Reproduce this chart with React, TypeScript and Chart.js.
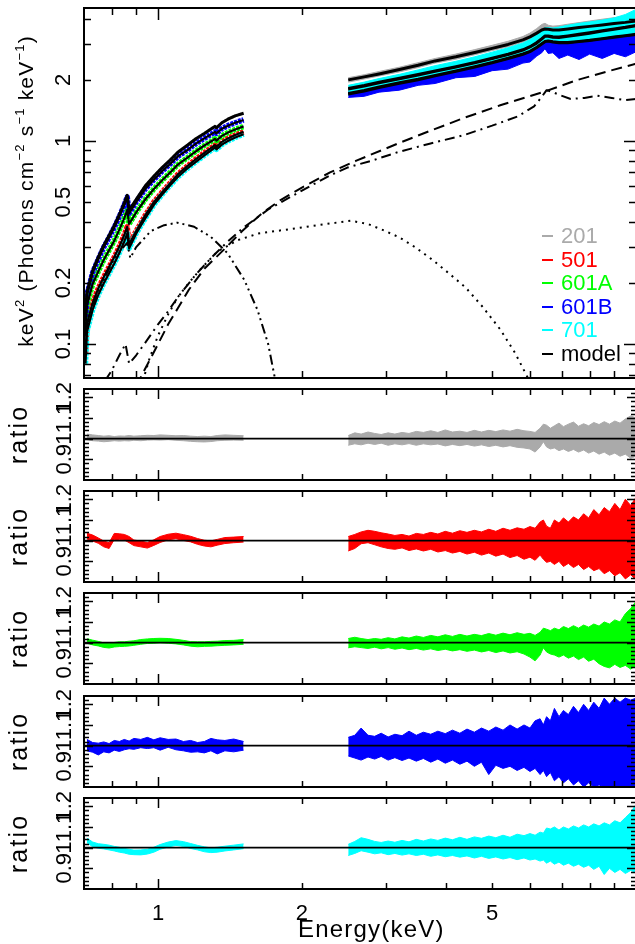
import React, { useEffect, useRef } from "react";
import { Chart, registerables } from "chart.js";

Chart.register(...registerables);

// ---------------- axes ----------------
const X_MIN = 0.7;
const X_MAX = 10;
const MAIN_Y_MIN = 0.068;
const MAIN_Y_MAX = 4.52;
const RATIO_MIN = 0.8;
const RATIO_MAX = 1.24;

const X_MAJOR = [1, 10];
const X_MINOR = [0.8, 0.9, 2, 3, 4, 5, 6, 7, 8, 9];
const X_LABELS = [1, 2, 5];
const MAIN_Y_MAJOR = [0.1, 1];
const MAIN_Y_MINOR = [0.07, 0.08, 0.09, 0.2, 0.3, 0.4, 0.5, 0.6, 0.7, 0.8, 0.9, 2, 3, 4];
const MAIN_Y_LABELS = [0.1, 0.2, 0.5, 1, 2];
const RATIO_MAJOR = [0.9, 1.0, 1.1, 1.2];
const RATIO_MINOR = [0.82, 0.84, 0.86, 0.88, 0.92, 0.94, 0.96, 0.98, 1.02, 1.04, 1.06, 1.08, 1.12, 1.14, 1.16, 1.18, 1.22];
const RATIO_LABELS = [0.9, 1.0, 1.1, 1.2];

const SERIES = ["201", "501", "601A", "601B", "701"];
const COLORS = ["#aaaaaa", "#ff0000", "#00ff00", "#0000ff", "#00ffff"];

// ---------------- main panel: low-energy segment (model curves) ----------------
const LOW_E = [0.705, 0.71, 0.73, 0.75, 0.77, 0.79, 0.81, 0.83, 0.85, 0.862, 0.87, 0.9, 0.94, 0.98, 1.02, 1.06, 1.1, 1.15, 1.2, 1.25, 1.3, 1.315, 1.325, 1.36, 1.4, 1.45, 1.51];
const M201_LOW = [0.14, 0.18, 0.23, 0.268, 0.306, 0.342, 0.383, 0.434, 0.495, 0.54, 0.455, 0.515, 0.6, 0.67, 0.74, 0.805, 0.88, 0.95, 1.025, 1.09, 1.16, 1.18, 1.16, 1.23, 1.28, 1.33, 1.37];
const M501_LOW = [0.09, 0.125, 0.16, 0.188, 0.214, 0.24, 0.268, 0.302, 0.345, 0.378, 0.31, 0.36, 0.43, 0.5, 0.56, 0.62, 0.685, 0.75, 0.815, 0.875, 0.935, 0.955, 0.935, 0.99, 1.03, 1.07, 1.11];
const M601A_LOW = [0.11, 0.155, 0.198, 0.228, 0.26, 0.29, 0.323, 0.366, 0.417, 0.456, 0.39, 0.445, 0.515, 0.58, 0.64, 0.7, 0.765, 0.825, 0.89, 0.95, 1.005, 1.025, 1.005, 1.06, 1.1, 1.14, 1.18];
const M601B_LOW = [0.13, 0.175, 0.225, 0.262, 0.3, 0.335, 0.375, 0.425, 0.485, 0.53, 0.44, 0.5, 0.58, 0.645, 0.71, 0.77, 0.84, 0.9, 0.97, 1.03, 1.09, 1.11, 1.09, 1.15, 1.19, 1.23, 1.27];
const M701_LOW = [0.08, 0.115, 0.148, 0.175, 0.199, 0.223, 0.249, 0.281, 0.32, 0.35, 0.296, 0.35, 0.415, 0.485, 0.545, 0.605, 0.665, 0.73, 0.79, 0.85, 0.91, 0.93, 0.91, 0.96, 1.0, 1.04, 1.08];

// ---------------- main panel: high-energy segment ----------------
const HIGH_E = [2.5, 2.7, 2.9, 3.2, 3.5, 3.8, 4.2, 4.6, 5.0, 5.4, 5.8, 6.0, 6.2, 6.35, 6.45, 6.55, 6.7, 6.9, 7.2, 7.6, 8.0, 8.5, 9.0, 9.5, 10.0];
const M201_HIGH = [2.0, 2.07, 2.14, 2.25, 2.36, 2.48, 2.6, 2.73, 2.86, 2.99, 3.15, 3.26, 3.4, 3.52, 3.56, 3.55, 3.52, 3.52, 3.56, 3.62, 3.67, 3.73, 3.79, 3.84, 3.9];
const M501_HIGH = [1.8, 1.86, 1.93, 2.02, 2.11, 2.2, 2.31, 2.42, 2.54, 2.66, 2.8, 2.9, 3.03, 3.17, 3.27, 3.27, 3.24, 3.23, 3.27, 3.33, 3.39, 3.47, 3.54, 3.61, 3.69];
const M601A_HIGH = [1.72, 1.78, 1.85, 1.94, 2.02, 2.11, 2.22, 2.33, 2.44, 2.56, 2.69, 2.77, 2.9, 3.02, 3.1, 3.12, 3.09, 3.06, 3.06, 3.1, 3.14, 3.2, 3.26, 3.31, 3.36];
const M601B_HIGH = [1.7, 1.76, 1.83, 1.92, 2.0, 2.09, 2.2, 2.31, 2.42, 2.54, 2.67, 2.75, 2.88, 3.0, 3.08, 3.1, 3.07, 3.04, 3.04, 3.08, 3.12, 3.18, 3.24, 3.29, 3.34];
const M701_HIGH = [1.82, 1.88, 1.95, 2.04, 2.13, 2.22, 2.33, 2.44, 2.56, 2.68, 2.82, 2.92, 3.06, 3.2, 3.3, 3.3, 3.27, 3.26, 3.3, 3.36, 3.42, 3.5, 3.57, 3.64, 3.72];

const D201_HI_UP = [2.05, 2.12, 2.2, 2.31, 2.43, 2.55, 2.68, 2.82, 2.96, 3.1, 3.27, 3.4, 3.58, 3.75, 3.8, 3.72, 3.68, 3.7, 3.76, 3.83, 3.9, 3.98, 4.05, 4.12, 4.2];
const D201_HI_LO = [1.95, 2.02, 2.09, 2.19, 2.3, 2.42, 2.53, 2.66, 2.79, 2.91, 3.07, 3.17, 3.3, 3.42, 3.46, 3.45, 3.42, 3.42, 3.46, 3.52, 3.57, 3.62, 3.68, 3.73, 3.78];
const D501_HI_UP = [1.84, 1.9, 1.97, 2.07, 2.16, 2.25, 2.37, 2.49, 2.61, 2.74, 2.89, 3.0, 3.14, 3.29, 3.4, 3.4, 3.38, 3.38, 3.43, 3.5, 3.57, 3.66, 3.74, 3.82, 3.9];
const D501_HI_LO = [1.76, 1.82, 1.89, 1.97, 2.06, 2.15, 2.25, 2.35, 2.47, 2.58, 2.71, 2.8, 2.92, 3.05, 3.14, 3.14, 3.1, 3.08, 3.11, 3.16, 3.21, 3.28, 3.34, 3.4, 3.48];
const D601A_HI_UP = [1.76, 1.82, 1.89, 1.99, 2.07, 2.16, 2.28, 2.4, 2.51, 2.64, 2.78, 2.87, 3.01, 3.14, 3.23, 3.25, 3.23, 3.21, 3.22, 3.27, 3.32, 3.39, 3.46, 3.52, 3.58];
const D601A_HI_LO = [1.68, 1.74, 1.81, 1.89, 1.97, 2.06, 2.16, 2.26, 2.37, 2.48, 2.6, 2.67, 2.79, 2.9, 2.97, 2.99, 2.95, 2.91, 2.9, 2.93, 2.96, 3.01, 3.06, 3.1, 3.14];
const D601B_HI_UP = [1.75, 1.82, 1.89, 1.99, 2.08, 2.18, 2.3, 2.42, 2.55, 2.68, 2.83, 2.93, 3.08, 3.22, 3.32, 3.35, 3.35, 3.35, 3.38, 3.45, 3.52, 3.6, 3.7, 3.8, 3.9];
const D601B_HI_LO = [1.64, 1.66, 1.74, 1.78, 1.88, 1.92, 2.05, 2.08, 2.22, 2.26, 2.42, 2.45, 2.62, 2.72, 2.85, 2.7, 2.72, 2.55, 2.65, 2.52, 2.68, 2.55, 2.7, 2.6, 2.75];
const D701_HI_UP = [1.88, 1.95, 2.03, 2.13, 2.24, 2.35, 2.47, 2.6, 2.74, 2.88, 3.04, 3.16, 3.33, 3.52, 3.62, 3.62, 3.6, 3.64, 3.72, 3.8, 3.86, 3.94, 4.04, 4.2, 4.45];
const D701_HI_LO = [1.74, 1.8, 1.86, 1.95, 2.03, 2.12, 2.22, 2.33, 2.44, 2.56, 2.69, 2.78, 2.92, 3.05, 3.14, 3.12, 3.08, 3.04, 3.05, 3.08, 3.12, 3.18, 3.24, 3.3, 3.36];

// ---------------- model components ----------------
const PL_E = [0.9, 0.93, 0.96, 1.0, 1.05, 1.1, 1.16, 1.25, 1.37, 1.5, 1.65, 1.8, 2.0, 2.29, 2.6, 3.17, 3.7, 4.37, 5.2, 6.43, 7.55, 8.7, 10];
const PL_V = [0.062, 0.072, 0.083, 0.1, 0.125, 0.15, 0.185, 0.235, 0.29, 0.36, 0.44, 0.51, 0.59, 0.7, 0.8, 0.97, 1.12, 1.3, 1.5, 1.75, 2.0, 2.2, 2.4];
const REFL_E = [0.775, 0.8, 0.83, 0.855, 0.87, 0.9, 0.95, 1.0, 1.05, 1.1, 1.2, 1.3, 1.4, 1.5, 1.7, 2.0, 2.3, 2.49, 2.8, 3.17, 3.7, 4.37, 5.0, 5.65, 6.12, 6.35, 6.5, 6.7, 6.95, 7.3, 7.8, 8.3, 8.9, 9.45, 10];
const REFL_V = [0.066, 0.074, 0.088, 0.1, 0.08, 0.088, 0.105, 0.125, 0.145, 0.17, 0.22, 0.27, 0.32, 0.37, 0.46, 0.57, 0.68, 0.74, 0.8, 0.88, 0.97, 1.07, 1.19, 1.32, 1.48, 1.65, 1.78, 1.74, 1.68, 1.61, 1.63, 1.67, 1.63, 1.59, 1.61];
const DOT_E = [0.93, 0.96, 1.0, 1.05, 1.1, 1.16, 1.23, 1.33, 1.47, 1.62, 1.84, 2.16, 2.53, 2.75, 2.95, 3.2, 3.45, 3.75, 4.06, 4.4, 4.77, 5.2, 5.59, 5.98];
const DOT_V = [0.066, 0.085, 0.11, 0.14, 0.17, 0.2, 0.235, 0.285, 0.325, 0.35, 0.365, 0.385, 0.405, 0.39, 0.365, 0.335, 0.3, 0.26, 0.223, 0.19, 0.153, 0.118, 0.09, 0.066];
const HUMP_E = [0.705, 0.72, 0.756, 0.807, 0.846, 0.862, 0.875, 0.9, 0.966, 1.03, 1.098, 1.19, 1.29, 1.398, 1.515, 1.615, 1.7, 1.76];
const HUMP_V = [0.11, 0.142, 0.19, 0.26, 0.3, 0.315, 0.265, 0.3, 0.36, 0.385, 0.396, 0.378, 0.337, 0.28, 0.207, 0.147, 0.1, 0.066];

// ---------------- ratio panels ----------------
const RATIO_LOW_E = [0.71, 0.73, 0.75, 0.77, 0.79, 0.81, 0.83, 0.85, 0.87, 0.89, 0.92, 0.95, 0.98, 1.01, 1.05, 1.09, 1.13, 1.17, 1.21, 1.25, 1.29, 1.33, 1.38, 1.44, 1.51];
const RATIO_HIGH_E = [2.5, 2.58, 2.66, 2.75, 2.84, 2.93, 3.03, 3.13, 3.24, 3.35, 3.47, 3.59, 3.72, 3.85, 3.99, 4.13, 4.28, 4.43, 4.59, 4.75, 4.92, 5.09, 5.27, 5.45, 5.64, 5.83, 6.0, 6.15, 6.3, 6.4, 6.5, 6.62, 6.75, 6.9, 7.05, 7.22, 7.4, 7.58, 7.77, 7.96, 8.16, 8.37, 8.58, 8.8, 9.03, 9.26, 9.5, 9.75, 10.0];

const R201_LOW_UP = [1.022, 1.018, 1.015, 1.012, 1.014, 1.01, 1.013, 1.012, 1.015, 1.012, 1.014, 1.016, 1.015, 1.018, 1.016, 1.014, 1.015, 1.012, 1.01, 1.012, 1.01, 1.015, 1.018, 1.016, 1.014];
const R201_LOW_LO = [0.995, 0.99, 0.988, 0.985, 0.987, 0.99, 0.988, 0.99, 0.989, 0.992, 0.99, 0.993, 0.994, 0.993, 0.995, 0.992, 0.99, 0.987, 0.985, 0.984, 0.986, 0.99, 0.992, 0.993, 0.992];
const R201_HIGH_UP = [1.015, 1.028, 1.022, 1.032, 1.025, 1.02, 1.028, 1.022, 1.03, 1.025, 1.035, 1.03, 1.038, 1.03, 1.042, 1.032, 1.036, 1.03, 1.04, 1.032, 1.04, 1.034, 1.042, 1.036, 1.045, 1.038, 1.035, 1.03, 1.05, 1.07, 1.065, 1.05, 1.062, 1.075, 1.058, 1.07, 1.08, 1.06, 1.072, 1.062, 1.078, 1.068, 1.082, 1.07, 1.085, 1.075, 1.095, 1.11, 1.1];
const R201_HIGH_LO = [0.968, 0.975, 0.97, 0.978, 0.972, 0.978, 0.968, 0.975, 0.97, 0.976, 0.968, 0.975, 0.97, 0.974, 0.965, 0.972, 0.966, 0.972, 0.964, 0.97, 0.962, 0.968, 0.96, 0.966, 0.958, 0.955, 0.95, 0.935, 0.96, 0.985, 0.96, 0.95, 0.955, 0.942, 0.95, 0.938, 0.948, 0.935, 0.945, 0.93, 0.94, 0.925, 0.935, 0.92, 0.93, 0.915, 0.925, 0.905, 0.915];

const R501_LOW_UP = [1.036, 1.027, 1.013, 0.998, 0.99, 1.035, 1.033, 1.03, 1.02, 1.003, 0.998, 0.991, 1.004, 1.02, 1.031, 1.036, 1.029, 1.021, 1.01, 1.002, 0.999, 1.006, 1.015, 1.017, 1.02];
const R501_LOW_LO = [1.008, 0.998, 0.987, 0.97, 0.962, 1.006, 1.005, 1.003, 0.99, 0.976, 0.97, 0.964, 0.977, 0.991, 1.004, 1.009, 1.001, 0.994, 0.982, 0.974, 0.97, 0.978, 0.986, 0.99, 0.993];
const R501_HIGH_UP = [1.02, 1.03, 1.042, 1.05, 1.045, 1.038, 1.032, 1.025, 1.03, 1.022, 1.035, 1.03, 1.04, 1.032, 1.045, 1.036, 1.048, 1.04, 1.05, 1.042, 1.055, 1.045, 1.06, 1.05, 1.062, 1.055, 1.068, 1.06, 1.09, 1.1, 1.07, 1.06, 1.1, 1.085, 1.11, 1.09, 1.115, 1.1, 1.13, 1.11, 1.15, 1.125, 1.16, 1.14, 1.18, 1.15, 1.2, 1.17, 1.21];
const R501_HIGH_LO = [0.95, 0.962, 0.985, 0.99, 0.98, 0.97, 0.962, 0.958, 0.965, 0.952, 0.96, 0.95, 0.958, 0.945, 0.952, 0.94, 0.948, 0.935, 0.944, 0.93, 0.94, 0.925, 0.935, 0.918, 0.928, 0.91, 0.92, 0.905, 0.93, 0.91, 0.895, 0.9, 0.885, 0.9, 0.875, 0.89, 0.87, 0.885, 0.86, 0.875, 0.855, 0.865, 0.84, 0.855, 0.83, 0.845, 0.815, 0.835, 0.81];

const R601A_LOW_UP = [1.019, 1.012, 1.006, 0.999, 0.997, 1.001, 1.004, 1.004, 1.007, 1.009, 1.015, 1.018, 1.02, 1.021, 1.02, 1.016, 1.011, 1.005, 1.004, 1.004, 1.006, 1.007, 1.01, 1.011, 1.015];
const R601A_LOW_LO = [0.997, 0.989, 0.984, 0.977, 0.974, 0.979, 0.981, 0.982, 0.984, 0.987, 0.992, 0.996, 0.997, 0.999, 0.997, 0.994, 0.989, 0.983, 0.98, 0.982, 0.983, 0.985, 0.987, 0.989, 0.992];
const R601A_HIGH_UP = [1.02, 1.026, 1.02, 1.015, 1.02, 1.016, 1.024, 1.018, 1.028, 1.022, 1.032, 1.025, 1.035, 1.028, 1.038, 1.03, 1.04, 1.032, 1.04, 1.034, 1.044, 1.036, 1.046, 1.038, 1.048, 1.04, 1.045, 1.035, 1.05, 1.07, 1.065, 1.058, 1.07, 1.062, 1.078, 1.068, 1.082, 1.07, 1.085, 1.075, 1.09, 1.08, 1.1, 1.09, 1.11, 1.1, 1.14, 1.165, 1.2];
const R601A_HIGH_LO = [0.975, 0.98, 0.976, 0.972, 0.978, 0.97, 0.976, 0.968, 0.974, 0.966, 0.972, 0.964, 0.97, 0.962, 0.968, 0.96, 0.966, 0.958, 0.964, 0.955, 0.962, 0.952, 0.96, 0.95, 0.956, 0.945, 0.93, 0.912, 0.94, 0.975, 0.955, 0.945, 0.94, 0.93, 0.94, 0.925, 0.935, 0.918, 0.93, 0.91, 0.92, 0.898, 0.885, 0.878, 0.895, 0.88, 0.89, 0.872, 0.89];

const R601B_LOW_UP = [1.03, 1.015, 1.012, 1.018, 1.01, 1.025, 1.02, 1.03, 1.022, 1.035, 1.03, 1.04, 1.028, 1.038, 1.03, 1.032, 1.02, 1.025, 1.015, 1.02, 1.035, 1.028, 1.025, 1.032, 1.02];
const R601B_LOW_LO = [0.975, 0.968, 0.955, 0.97, 0.965, 0.978, 0.972, 0.98, 0.985, 0.982, 0.99, 0.986, 0.99, 0.978, 0.992, 0.98, 0.975, 0.968, 0.97, 0.965, 0.975, 0.96, 0.975, 0.97, 0.978];
const R601B_HIGH_UP = [1.04, 1.05, 1.085, 1.05, 1.045, 1.06, 1.042, 1.055, 1.048, 1.07, 1.05, 1.065, 1.055, 1.07, 1.058, 1.075, 1.06, 1.08, 1.065, 1.085, 1.07, 1.09, 1.075, 1.1, 1.08, 1.1, 1.085, 1.12, 1.13, 1.1, 1.14, 1.12, 1.18, 1.14, 1.17, 1.15, 1.19, 1.16, 1.2, 1.17, 1.21, 1.18, 1.23, 1.2, 1.23, 1.21, 1.23, 1.22, 1.23];
const R601B_HIGH_LO = [0.95, 0.94, 0.93, 0.945, 0.935, 0.948, 0.93, 0.942, 0.928, 0.94, 0.925, 0.938, 0.92, 0.935, 0.915, 0.93, 0.91, 0.925, 0.9, 0.92, 0.86, 0.905, 0.89, 0.9, 0.88, 0.895, 0.875, 0.89, 0.86, 0.88, 0.85, 0.87, 0.83, 0.85, 0.82, 0.84, 0.81, 0.83, 0.8, 0.82, 0.8, 0.81, 0.8, 0.8, 0.8, 0.8, 0.8, 0.8, 0.8];

const R701_LOW_UP = [1.046, 1.027, 1.019, 1.016, 1.012, 1.006, 1.002, 0.996, 0.992, 0.988, 0.989, 0.992, 1.002, 1.015, 1.027, 1.034, 1.029, 1.02, 1.011, 1.004, 0.999, 1.002, 1.007, 1.012, 1.018];
const R701_LOW_LO = [1.024, 1.004, 0.997, 0.994, 0.989, 0.984, 0.978, 0.974, 0.968, 0.966, 0.965, 0.969, 0.978, 0.992, 1.003, 1.011, 1.006, 0.996, 0.989, 0.98, 0.976, 0.978, 0.984, 0.989, 0.995];
const R701_HIGH_UP = [1.016, 1.03, 1.048, 1.04, 1.03, 1.025, 1.032, 1.026, 1.035, 1.028, 1.04, 1.032, 1.042, 1.035, 1.046, 1.038, 1.05, 1.04, 1.052, 1.045, 1.056, 1.048, 1.06, 1.05, 1.065, 1.058, 1.068, 1.06, 1.075, 1.07, 1.095, 1.09, 1.1, 1.085, 1.1, 1.09, 1.105, 1.095, 1.11, 1.1, 1.115, 1.105, 1.12, 1.11, 1.13, 1.12, 1.145, 1.17, 1.21];
const R701_HIGH_LO = [0.962, 0.972, 0.985, 0.978, 0.97, 0.975, 0.966, 0.972, 0.964, 0.97, 0.962, 0.968, 0.958, 0.965, 0.956, 0.962, 0.954, 0.96, 0.95, 0.958, 0.948, 0.955, 0.945, 0.952, 0.942, 0.95, 0.94, 0.945, 0.935, 0.94, 0.925, 0.935, 0.92, 0.93, 0.915, 0.925, 0.91, 0.92, 0.905, 0.915, 0.895, 0.91, 0.87, 0.9, 0.88, 0.895, 0.875, 0.89, 0.88];

// ---------------- layout ----------------
const CANVAS_W = 645;
const CANVAS_H = 944;
const PLOT_L = 84;
const PLOT_R = 636;
const MAIN_BOX = { top: 8, bottom: 378 };
const RATIO_BOXES = [
  { top: 389, bottom: 480 },
  { top: 491, bottom: 582 },
  { top: 593, bottom: 684 },
  { top: 696, bottom: 787 },
  { top: 798, bottom: 889 },
];
const FONT = '"Liberation Sans", Arial, Helvetica, sans-serif';

type Pt = { x: number; y: number };
const pts = (xs: number[], ys: number[]): Pt[] => xs.map((x, i) => ({ x, y: ys[i] }));

function lineDs(data: Pt[], color: string, width: number, order: number, dash: number[] = []) {
  return {
    data,
    borderColor: color,
    backgroundColor: color,
    borderWidth: width,
    borderDash: dash,
    pointRadius: 0,
    fill: false,
    order,
    tension: 0,
    borderCapStyle: "butt",
    borderJoinStyle: "round",
  };
}

function bandDs(xs: number[], lo: number[], up: number[], color: string, order: number) {
  return [
    { data: pts(xs, lo), borderColor: color, backgroundColor: color, borderWidth: 1, pointRadius: 0, fill: false, order, tension: 0 },
    { data: pts(xs, up), borderColor: color, backgroundColor: color, borderWidth: 1, pointRadius: 0, fill: "-1", order, tension: 0 },
  ];
}

function fmt(v: number) {
  return String(v);
}

function drawRotated(ctx: CanvasRenderingContext2D, text: string, x: number, y: number, spacing = 0) {
  ctx.save();
  ctx.translate(x, y);
  ctx.rotate(-Math.PI / 2);
  (ctx as any).letterSpacing = spacing + "px";
  const w = ctx.measureText(text).width;
  ctx.textAlign = "left";
  ctx.textBaseline = "middle";
  ctx.fillText(text, -(w - spacing) / 2, 0);
  ctx.restore();
}

type Seg = { t: string; sup?: boolean };
function drawRichRotated(ctx: CanvasRenderingContext2D, segs: Seg[], x: number, y: number, size: number, spacing: number) {
  ctx.save();
  ctx.translate(x, y);
  ctx.rotate(-Math.PI / 2);
  (ctx as any).letterSpacing = spacing + "px";
  ctx.textBaseline = "alphabetic";
  ctx.textAlign = "left";
  let total = 0;
  const widths: number[] = [];
  for (const s of segs) {
    ctx.font = `${s.sup ? Math.round(size * 0.62) : size}px ${FONT}`;
    const w = ctx.measureText(s.t).width;
    widths.push(w);
    total += w;
  }
  let cx = -total / 2;
  const base = size * 0.36;
  segs.forEach((s, i) => {
    ctx.font = `${s.sup ? Math.round(size * 0.62) : size}px ${FONT}`;
    ctx.fillText(s.t, cx, s.sup ? base - size * 0.42 : base);
    cx += widths[i];
  });
  ctx.restore();
}

const sciAxes = {
  id: "sciAxes",
  afterDraw(chart: any, _a: any, o: any) {
    const ctx: CanvasRenderingContext2D = chart.ctx;
    const { left, right, top, bottom } = chart.chartArea;
    const xs = chart.scales.x;
    const ys = chart.scales.y;
    ctx.save();
    ctx.strokeStyle = "#000";
    ctx.fillStyle = "#000";
    ctx.lineWidth = 1.5;
    ctx.beginPath();
    const xt = (vals: number[], len: number) => {
      for (const v of vals) {
        const px = Math.round(xs.getPixelForValue(v)) + 0.5;
        ctx.moveTo(px, top);
        ctx.lineTo(px, top + len);
        ctx.moveTo(px, bottom);
        ctx.lineTo(px, bottom - len);
      }
    };
    const yt = (vals: number[], len: number) => {
      for (const v of vals) {
        const py = Math.round(ys.getPixelForValue(v)) + 0.5;
        ctx.moveTo(left, py);
        ctx.lineTo(left + len, py);
        ctx.moveTo(right, py);
        ctx.lineTo(right - len, py);
      }
    };
    xt(X_MAJOR, o.xMajorLen);
    xt(X_MINOR, o.xMinorLen);
    yt(o.yMajor, o.yMajorLen);
    yt(o.yMinor, o.yMinorLen);
    ctx.stroke();
    ctx.lineWidth = 2;
    ctx.strokeRect(left, top, right - left, bottom - top);

    // y tick labels (rotated)
    ctx.font = `${o.yLabelSize}px ${FONT}`;
    for (const v of o.yLabels) {
      drawRotated(ctx, fmt(v), o.yLabelX, ys.getPixelForValue(v), 0);
    }
    // y title
    if (o.yTitle === "ratio") {
      ctx.font = `${o.titleSize}px ${FONT}`;
      drawRotated(ctx, "ratio", 20, (top + bottom) / 2 + 1, o.ratioSpacing);
    } else if (o.yTitle === "main") {
      drawRichRotated(
        ctx,
        [
          { t: "keV" },
          { t: "2", sup: true },
          { t: " (Photons cm" },
          { t: "\u22122", sup: true },
          { t: " s" },
          { t: "\u22121", sup: true },
          { t: " keV" },
          { t: "\u22121", sup: true },
          { t: ")" },
        ],
        25,
        191,
        o.titleSize,
        1.2
      );
    }
    // x tick labels + title
    if (o.xLabels) {
      ctx.font = `${o.yLabelSize}px ${FONT}`;
      ctx.textAlign = "center";
      ctx.textBaseline = "alphabetic";
      for (const v of X_LABELS) {
        ctx.fillText(fmt(v), xs.getPixelForValue(v), 920);
      }
      ctx.font = `${o.xTitleSize}px ${FONT}`;
      ctx.textAlign = "left";
      (ctx as any).letterSpacing = o.xTitleSpacing + "px";
      ctx.fillText("Energy(keV)", 298, 937);
      (ctx as any).letterSpacing = "0px";
    }
    // legend
    if (o.legend) {
      ctx.font = `${o.legendSize}px ${FONT}`;
      ctx.textAlign = "left";
      ctx.textBaseline = "middle";
      const names = [...SERIES, "model"];
      const cols = [...COLORS, "#000000"];
      names.forEach((n, i) => {
        const yy = 236 + i * 23.5;
        ctx.fillStyle = cols[i];
        ctx.fillRect(542, Math.round(yy) - 1, 11, 2);
        ctx.fillText(n, 561, yy + 1);
      });
    }
    ctx.restore();
  },
};

function baseOptions(box: { top: number; bottom: number }, yScale: any, axesOpts: any) {
  return {
    responsive: false,
    maintainAspectRatio: false,
    animation: false,
    devicePixelRatio: 1,
    events: [],
    layout: { padding: { left: PLOT_L, right: CANVAS_W - PLOT_R, top: box.top, bottom: CANVAS_H - box.bottom } },
    plugins: { legend: { display: false }, tooltip: { enabled: false }, title: { display: false }, sciAxes: axesOpts },
    scales: {
      x: { type: "logarithmic", min: X_MIN, max: X_MAX, display: false },
      y: { ...yScale, display: false },
    },
  };
}

function mainConfig(): any {
  const ds: any[] = [];
  const lowModels = [M201_LOW, M501_LOW, M601A_LOW, M601B_LOW, M701_LOW];
  const highModels = [M201_HIGH, M501_HIGH, M601A_HIGH, M601B_HIGH, M701_HIGH];
  lowModels.forEach((m, i) => ds.push(lineDs(pts(LOW_E, m), "#000", i === 0 ? 3 : 2.2, 0)));
  highModels.forEach((m, i) => ds.push(lineDs(pts(HIGH_E, m), "#000", i === 0 ? 3 : 2.6, 0)));
  ds.push(lineDs(pts(PL_E, PL_V), "#000", 2, 1, [11, 6]));
  ds.push(lineDs(pts(REFL_E, REFL_V), "#000", 2, 1, [10, 5, 2, 5]));
  ds.push(lineDs(pts(DOT_E, DOT_V), "#000", 2, 1, [2, 5]));
  ds.push(lineDs(pts(HUMP_E, HUMP_V), "#000", 2, 1, [10, 4, 2, 4, 2, 4, 2, 4]));
  const orderOf = [6, 5, 4, 3, 2];
  lowModels.forEach((m, i) => ds.push(lineDs(pts(LOW_E, m), COLORS[i], i === 0 ? 3 : 5.5, orderOf[i], [3, 1])));
  const bands = [
    [D201_HI_LO, D201_HI_UP],
    [D501_HI_LO, D501_HI_UP],
    [D601A_HI_LO, D601A_HI_UP],
    [D601B_HI_LO, D601B_HI_UP],
    [D701_HI_LO, D701_HI_UP],
  ];
  bands.forEach((b, i) => ds.push(...bandDs(HIGH_E, b[0], b[1], COLORS[i], orderOf[i])));
  return {
    type: "line",
    data: { datasets: ds },
    options: baseOptions(
      MAIN_BOX,
      { type: "logarithmic", min: MAIN_Y_MIN, max: MAIN_Y_MAX },
      {
        xMajorLen: 12,
        xMinorLen: 7,
        yMajor: MAIN_Y_MAJOR,
        yMinor: MAIN_Y_MINOR,
        yMajorLen: 12,
        yMinorLen: 7,
        yLabels: MAIN_Y_LABELS,
        yLabelX: 64,
        yLabelSize: 22,
        yTitle: "main",
        titleSize: 21,
        legend: true,
        legendSize: 22,
      }
    ),
    plugins: [sciAxes],
  };
}

const RATIO_DATA = [
  [R201_LOW_LO, R201_LOW_UP, R201_HIGH_LO, R201_HIGH_UP],
  [R501_LOW_LO, R501_LOW_UP, R501_HIGH_LO, R501_HIGH_UP],
  [R601A_LOW_LO, R601A_LOW_UP, R601A_HIGH_LO, R601A_HIGH_UP],
  [R601B_LOW_LO, R601B_LOW_UP, R601B_HIGH_LO, R601B_HIGH_UP],
  [R701_LOW_LO, R701_LOW_UP, R701_HIGH_LO, R701_HIGH_UP],
];
const UNITY_E = [X_MIN, X_MAX];
const UNITY_V = [1, 1];

function ratioConfig(i: number): any {
  const [llo, lup, hlo, hup] = RATIO_DATA[i];
  const ds: any[] = [
    lineDs(pts(UNITY_E, UNITY_V), "#000", 1.6, 0),
    ...bandDs(RATIO_LOW_E, llo, lup, COLORS[i], 1),
    ...bandDs(RATIO_HIGH_E, hlo, hup, COLORS[i], 1),
  ];
  return {
    type: "line",
    data: { datasets: ds },
    options: baseOptions(
      RATIO_BOXES[i],
      { type: "linear", min: RATIO_MIN, max: RATIO_MAX },
      {
        xMajorLen: 10,
        xMinorLen: 6,
        yMajor: RATIO_MAJOR,
        yMinor: RATIO_MINOR,
        yMajorLen: 9,
        yMinorLen: 5,
        yLabels: RATIO_LABELS,
        yLabelX: 65,
        yLabelSize: 22,
        yTitle: "ratio",
        titleSize: 25,
        ratioSpacing: 2.2,
        xLabels: i === 4,
        xTitleSize: 24,
        xTitleSpacing: 1.2,
      }
    ),
    plugins: [sciAxes],
  };
}

export default function App() {
  const refs = useRef<(HTMLCanvasElement | null)[]>([]);
  useEffect(() => {
    const charts: Chart[] = [];
    if (refs.current[0]) charts.push(new Chart(refs.current[0], mainConfig()));
    for (let i = 0; i < 5; i++) {
      const c = refs.current[i + 1];
      if (c) charts.push(new Chart(c, ratioConfig(i)));
    }
    return () => charts.forEach((c) => c.destroy());
  }, []);
  return (
    <div style={{ position: "absolute", left: 0, top: 0, width: 635, height: 944, overflow: "hidden", background: "#fff" }}>
      {[0, 1, 2, 3, 4, 5].map((i) => (
        <canvas
          key={i}
          ref={(el) => {
            refs.current[i] = el;
          }}
          width={CANVAS_W}
          height={CANVAS_H}
          style={{ position: "absolute", left: 0, top: 0, width: CANVAS_W, height: CANVAS_H }}
        />
      ))}
    </div>
  );
}
